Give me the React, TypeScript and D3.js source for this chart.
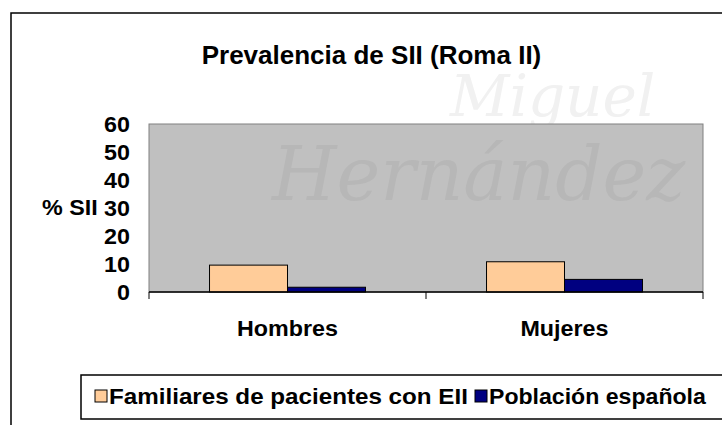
import React from "react";
import { scaleBand, scaleLinear } from "d3";

const categories = ["Hombres", "Mujeres"];
const seriesNames = ["Familiares de pacientes con EII", "Población española"];
const familiares = [9.6, 10.8];
const poblacion = [1.7, 4.5];
const yTicks = [0, 10, 20, 30, 40, 50, 60];
const colors = ["#FFCC99", "#000080"];

const W = 722;
const H = 425;
const font = "'Liberation Sans', Arial, sans-serif";
const serif = "'DejaVu Serif', 'Liberation Serif', serif";

// the source text is a bit stretched sideways, so scale it
function Label(props: {
  x: number;
  y: number;
  anchor?: string;
  sx?: number;
  size?: number;
  children: React.ReactNode;
}) {
  const { x, y, anchor = "start", sx = 1.06, size = 22 } = props;
  return (
    <text
      transform={`translate(${x},${y}) scale(${sx},1)`}
      textAnchor={anchor}
      fontFamily={font}
      fontWeight="bold"
      fontSize={size}
    >
      {props.children}
    </text>
  );
}

function App() {
  const values = [familiares, poblacion];

  const x = scaleBand().domain(categories).range([149, 703]).padding(0);
  const xs = scaleBand()
    .domain(seriesNames)
    .range([0, x.bandwidth()])
    .paddingInner(0)
    .paddingOuter(0.776);
  const y = scaleLinear().domain([0, 60]).range([292, 124]);

  const boundaries = [...categories.map((c) => x(c)!), 703];

  return (
    <svg
      width={W}
      height={H}
      style={{ position: "absolute", left: 0, top: 0, background: "#fff" }}
    >
      <defs>
        <clipPath id="plotclip">
          <rect x={149} y={124} width={554} height={168} />
        </clipPath>
      </defs>

      {/* faded watermark */}
      <text x={450} y={116} fontFamily={serif} fontStyle="italic" fontSize={58} fill="#f1f1f1">
        Miguel
      </text>

      {/* chart frame */}
      <rect x={11} y={13} width={730} height={430} fill="none" stroke="#000" strokeWidth={1.5} />

      <text x={371.5} y={64} textAnchor="middle" fontFamily={font} fontWeight="bold" fontSize={26}>
        Prevalencia de SII (Roma II)
      </text>

      {/* plot area */}
      <rect x={149} y={124} width={554} height={168} fill="#c0c0c0" stroke="#808080" strokeWidth={1} />
      <text
        x={272}
        y={200}
        fontFamily={serif}
        fontStyle="italic"
        fontSize={74}
        fill="#b7b7b7"
        clipPath="url(#plotclip)"
      >
        Hernández
      </text>

      {/* bars */}
      {categories.map((c, i) =>
        seriesNames.map((s, j) => (
          <rect
            key={c + s}
            x={x(c)! + xs(s)!}
            y={y(values[j][i])}
            width={xs.bandwidth()}
            height={y(0) - y(values[j][i])}
            fill={colors[j]}
            stroke="#000"
            strokeWidth={1}
          />
        ))
      )}

      {/* x axis */}
      <line x1={149} x2={703} y1={292} y2={292} stroke="#000" strokeWidth={1.5} />
      {boundaries.map((b, i) => (
        <line key={i} x1={b} x2={b} y1={292} y2={299} stroke="#000" strokeWidth={1} />
      ))}
      {categories.map((c) => (
        <Label key={c} x={x(c)! + x.bandwidth() / 2} y={336} anchor="middle">
          {c}
        </Label>
      ))}

      {/* y axis labels */}
      {yTicks.map((t) => (
        <Label key={t} x={130} y={y(t) + 8} anchor="end">
          {t}
        </Label>
      ))}
      <Label x={42} y={215}>% SII</Label>

      {/* legend */}
      <rect x={81} y={375} width={660} height={44} fill="#fff" stroke="#000" strokeWidth={1.5} />
      {seriesNames.map((s, j) => {
        const sx = [95, 475][j];
        return (
          <g key={s}>
            <rect x={sx} y={390} width={12} height={12} fill={colors[j]} stroke="#000" strokeWidth={1} />
            <Label x={sx + 14} y={404} sx={[1.1, 1.05][j]}>
              {s}
            </Label>
          </g>
        );
      })}
    </svg>
  );
}

export default App;
